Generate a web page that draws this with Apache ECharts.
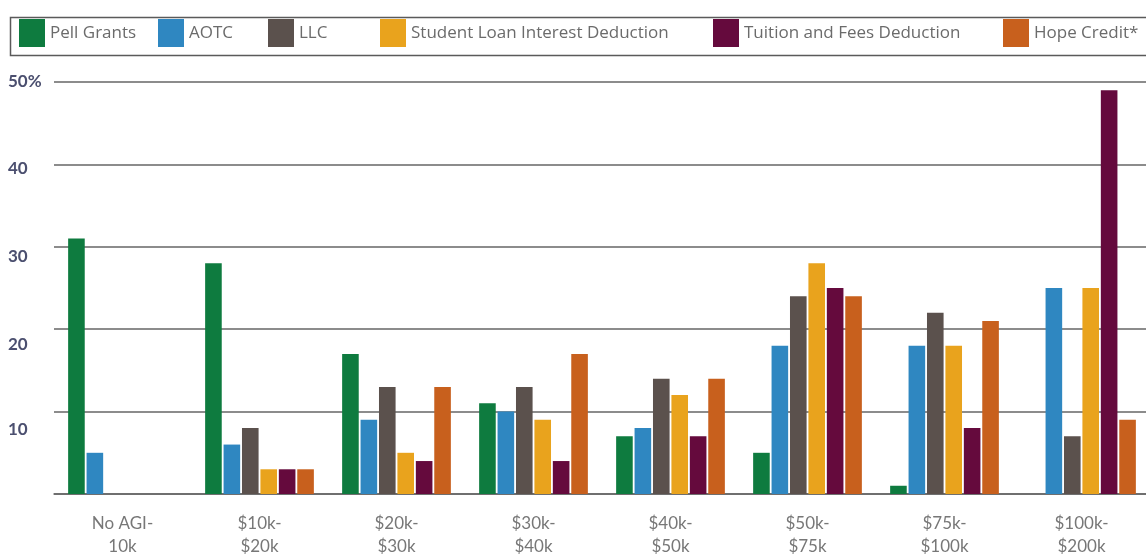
<!DOCTYPE html>
<html>
<head>
<meta charset="utf-8">
<script src="https://cdn.jsdelivr.net/npm/echarts@6/dist/echarts.min.js"></script>
<style>
  html, body { margin: 0; padding: 0; background: #fff; }
  #chart { width: 1146px; height: 555px; }
</style>
</head>
<body>
<div id="chart"></div>
<script>
const categories = [
  'No AGI-\n10k', '$10k-\n$20k', '$20k-\n$30k', '$30k-\n$40k',
  '$40k-\n$50k', '$50k-\n$75k', '$75k-\n$100k', '$100k-\n$200k',
];
const pellGrants = [31, 28, 17, 11, 7, 5, 1, 0];
const aotc = [5, 6, 9, 10, 8, 18, 18, 25];
const llc = [0, 8, 13, 13, 14, 24, 22, 7];
const studentLoan = [0, 3, 5, 9, 12, 28, 18, 25];
const tuitionFees = [0, 3, 4, 4, 7, 25, 8, 49];
const hopeCredit = [0, 3, 13, 17, 14, 24, 21, 9];
const yTicks = [0, 10, 20, 30, 40, 50];

// label shift below gridline, as in the source graphic
const labelShift = { 10: 36, 20: 30, 30: 20, 40: 8, 50: 0 };

const seriesDefs = [
  { name: 'Pell Grants', data: pellGrants, color: '#0e7b3f', legendX: 14 },
  { name: 'AOTC', data: aotc, color: '#2f87c1', legendX: 153 },
  { name: 'LLC', data: llc, color: '#5b514d', legendX: 263 },
  { name: 'Student Loan Interest Deduction', data: studentLoan, color: '#e9a31d', legendX: 375 },
  { name: 'Tuition and Fees Deduction', data: tuitionFees, color: '#650a3d', legendX: 708 },
  { name: 'Hope Credit*', data: hopeCredit, color: '#c8601d', legendX: 998 },
];

const chart = echarts.init(document.getElementById('chart'));

const rich = {};
yTicks.forEach((t) => {
  rich['r' + t] = {
    color: '#4b4f6f',
    fontWeight: 'bold',
    fontSize: 17,
    fontFamily: 'Lato',
    padding: [labelShift[t] || 0, 0, 0, 0],
  };
});

chart.setOption({
  animation: false,
  graphic: [
    {
      type: 'rect',
      left: 8,
      top: 15,
      shape: { width: 1150, height: 38 },
      style: { fill: 'none', stroke: '#5a5a5a', lineWidth: 1.5 },
    },
  ],
  legend: seriesDefs.map((s) => ({
    data: [s.name],
    left: s.legendX,
    top: 14,
    itemWidth: 26,
    itemHeight: 28,
    icon: 'rect',
    textStyle: {
      color: '#6b6b6b',
      fontSize: 17,
      fontFamily: 'Open Sans',
    },
  })),
  grid: {
    left: 54,
    top: 82,
    width: 1096,
    height: 412,
    outerBoundsMode: 'none',
    containLabel: false,
  },
  xAxis: {
    type: 'category',
    data: categories,
    axisLine: { lineStyle: { color: '#666', width: 1.5 } },
    axisTick: { inside: true, length: 8, lineStyle: { color: '#666', width: 1.5 } },
    axisLabel: {
      color: '#777',
      fontSize: 17,
      fontFamily: 'Lato',
      lineHeight: 23,
      margin: 18,
    },
  },
  yAxis: {
    type: 'value',
    min: 0,
    max: 50,
    interval: 10,
    axisLine: { show: false },
    axisTick: { show: false },
    splitLine: { lineStyle: { color: '#666', width: 1.5 } },
    axisLabel: {
      align: 'left',
      margin: 46,
      formatter: (v) => {
        if (v === 0) return '';
        const txt = v === 50 ? '50%' : String(v);
        return '{r' + v + '|' + txt + '}';
      },
      rich,
    },
  },
  series: seriesDefs.map((s) => ({
    name: s.name,
    type: 'bar',
    data: s.data,
    barWidth: 16.6,
    barGap: '11%',
    itemStyle: { color: s.color },
  })),
});
</script>
</body>
</html>
